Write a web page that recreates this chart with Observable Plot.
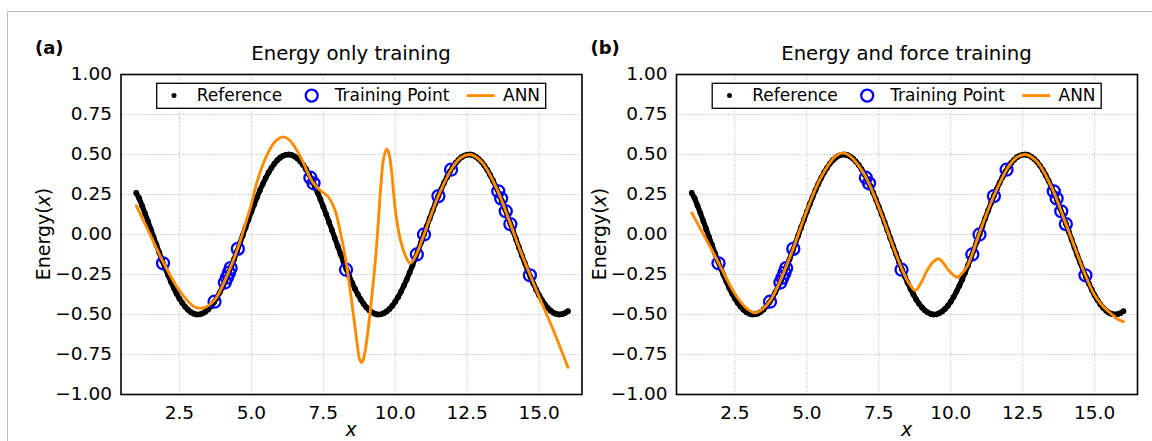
<!DOCTYPE html>
<html><head><meta charset="utf-8">
<script src="https://cdn.jsdelivr.net/npm/d3@7"></script>
<script src="https://cdn.jsdelivr.net/npm/@observablehq/plot@0.6"></script>
<style>
html,body{margin:0;padding:0;background:#fff;}
#fig{position:relative;width:1152px;height:441px;overflow:hidden;font-family:"DejaVu Sans",sans-serif;}
#border{position:absolute;left:7px;top:11px;width:1300px;height:600px;border-top:1.5px solid #c0c0c0;border-left:1.5px solid #c0c0c0;}
.panel{position:absolute;top:0;}
#overlay{position:absolute;left:0;top:0;}
</style></head><body><div id="fig"><div id="border"></div></div>
<script>
// ---- data ----
const xTicks = [2.5, 5.0, 7.5, 10.0, 12.5, 15.0];
const yTicks = [-1.0, -0.75, -0.5, -0.25, 0.0, 0.25, 0.5, 0.75, 1.0];
const xDomain = [0.47, 16.49];
const yDomain = [-1, 1];

// Reference (black dots), sampled from x = 1.0 to 16.0 every 0.1
const refStart = 1.0, refStep = 0.1;
const refY = [
  0.260,0.227,0.181,0.134,0.085,0.035,-0.015,-0.064,-0.114,-0.162,
  -0.208,-0.252,-0.294,-0.333,-0.369,-0.401,-0.428,-0.452,-0.471,-0.486,
  -0.495,-0.500,-0.499,-0.494,-0.483,-0.468,-0.448,-0.424,-0.396,-0.363,
  -0.327,-0.287,-0.245,-0.200,-0.154,-0.105,-0.056,-0.006,0.044,0.093,
  0.142,0.189,0.234,0.277,0.317,0.354,0.388,0.417,0.443,0.464,
  0.480,0.492,0.498,0.500,0.497,0.488,0.475,0.457,0.435,0.408,
  0.377,0.342,0.304,0.263,0.219,0.173,0.126,0.077,0.027,-0.023,
  -0.073,-0.122,-0.170,-0.216,-0.260,-0.301,-0.339,-0.374,-0.406,-0.433,
  -0.456,-0.474,-0.487,-0.496,-0.500,-0.499,-0.492,-0.481,-0.465,-0.445,
  -0.420,-0.390,-0.357,-0.320,-0.281,-0.238,-0.193,-0.146,-0.097,-0.048,
  0.002,0.052,0.102,0.150,0.197,0.242,0.284,0.324,0.360,0.393,
  0.422,0.447,0.467,0.483,0.493,0.499,0.500,0.496,0.486,0.472,
  0.454,0.431,0.403,0.371,0.336,0.297,0.256,0.212,0.166,0.118,
  0.068,0.019,-0.031,-0.081,-0.130,-0.177,-0.223,-0.266,-0.307,-0.345,
  -0.380,-0.410,-0.437,-0.459,-0.476,-0.489,-0.497,-0.500,-0.498,-0.491,
  -0.479
];

// Training points (blue circles)
const trainX = [1.93, 3.72, 4.08, 4.15, 4.22, 4.28, 4.53, 7.05, 7.16, 8.29, 10.75, 11.0, 11.5, 11.94, 13.58, 13.68, 13.84, 14.0, 14.68];
const trainY = [-0.18, -0.42, -0.30, -0.27, -0.24, -0.21, -0.09, 0.355, 0.32, -0.22, -0.125, 0.0, 0.24, 0.405, 0.27, 0.225, 0.145, 0.065, -0.255];

// ANN, panel (a): energy only training
const annAX = [1.0, 1.4, 1.93, 2.5, 3.0, 3.3, 3.72, 4.1, 4.53, 4.8, 5.0, 5.2, 5.5, 5.8, 6.09, 6.3, 6.5, 6.75, 7.0, 7.16, 7.4, 7.65, 7.82, 7.93, 8.11, 8.3, 8.51, 8.69, 8.76, 8.83, 8.9, 8.98, 9.15, 9.33, 9.5, 9.6, 9.71, 9.8, 9.87, 10.02, 10.19, 10.37, 10.52, 10.72, 11.0, 11.5, 12.0, 12.3, 12.6, 13.0, 13.5, 14.0, 14.3, 14.68, 15.0, 15.5, 16.0];
const annAY = [0.18, 0.03, -0.17, -0.35, -0.45, -0.46, -0.41, -0.28, -0.085, 0.07, 0.19, 0.33, 0.48, 0.575, 0.61, 0.595, 0.55, 0.47, 0.37, 0.32, 0.275, 0.24, 0.19, 0.14, 0.0, -0.18, -0.45, -0.70, -0.78, -0.80, -0.775, -0.70, -0.45, -0.12, 0.30, 0.48, 0.535, 0.49, 0.40, 0.13, -0.04, -0.14, -0.18, -0.13, 0.0, 0.242, 0.422, 0.483, 0.50, 0.454, 0.297, 0.068, -0.08, -0.25, -0.39, -0.60, -0.83];

// ANN, panel (b): energy and force training
const annBX = [1.0, 1.5, 1.94, 2.5, 2.9, 3.2, 3.5, 3.74, 4.0, 4.5, 5.0, 5.5, 6.0, 6.25, 6.5, 7.0, 7.5, 8.0, 8.29, 8.5, 8.77, 9.0, 9.18, 9.4, 9.58, 9.75, 9.93, 10.22, 10.4, 10.57, 10.74, 10.98, 11.5, 12.0, 12.3, 12.6, 13.0, 13.5, 14.0, 14.68, 15.0, 15.3, 15.6, 15.8, 16.0];
const annBY = [0.135, -0.03, -0.18, -0.37, -0.46, -0.49, -0.46, -0.41, -0.32, -0.10, 0.15, 0.36, 0.49, 0.51, 0.49, 0.375, 0.17, -0.075, -0.21, -0.29, -0.35, -0.29, -0.225, -0.17, -0.152, -0.18, -0.225, -0.267, -0.24, -0.20, -0.125, 0.0, 0.242, 0.422, 0.483, 0.50, 0.454, 0.297, 0.068, -0.255, -0.38, -0.45, -0.50, -0.53, -0.545];

const titles = ["Energy only training", "Energy and force training"];
const panelTags = ["(a)", "(b)"];
const legendLabels = ["Reference", "Training Point", "ANN"];

// ---- build tables ----
const refData = refY.map((y, i) => ({x: refStart + i * refStep, y}));
const trainData = trainX.map((x, i) => ({x, y: trainY[i]}));
const annA = annAX.map((x, i) => ({x, y: annAY[i]}));
const annB = annBX.map((x, i) => ({x, y: annBY[i]}));

const FONT = '"DejaVu Sans", sans-serif';
const ORANGE = "#ff8c00", BLUE = "#0000ff";
const fig = document.getElementById("fig");

function panel(ann, left, width, ml, mr) {
  const p = Plot.plot({
    width, height: 441,
    marginLeft: ml, marginRight: mr, marginTop: 74, marginBottom: 47,
    style: {fontFamily: FONT, fontSize: "18.5px", color: "black", background: "transparent", overflow: "visible"},
    x: {domain: xDomain},
    y: {domain: yDomain},
    marks: [
      Plot.gridX(xTicks, {stroke: "#b0b0b0", strokeOpacity: 1, strokeDasharray: "1,1.6", strokeWidth: 0.9}),
      Plot.gridY(yTicks, {stroke: "#b0b0b0", strokeOpacity: 1, strokeDasharray: "1,1.6", strokeWidth: 0.9}),
      Plot.line(refData, {x: "x", y: "y", stroke: "black", strokeWidth: 5.2}),
      Plot.dot(refData, {x: "x", y: "y", r: 2.9, fill: "black"}),
      Plot.dot(trainData, {x: "x", y: "y", r: 6, stroke: BLUE, strokeWidth: 2.3, fill: "none"}),
      Plot.line(ann, {x: "x", y: "y", stroke: ORANGE, strokeWidth: 2.9, curve: "catmull-rom"}),
      Plot.frame({stroke: "black", strokeWidth: 1.6}),
      Plot.axisX(xTicks, {tickSize: 0, tickPadding: 11, tickFormat: d3.format(".1f"), label: null, fontSize: 18.5}),
      Plot.axisY(yTicks, {tickSize: 0, tickPadding: 9, tickFormat: d3.format(".2f"), label: null, fontSize: 18.5})
    ]
  });
  p.classList.add("panel");
  p.style.left = left + "px";
  fig.appendChild(p);
}

// frame a: 120.5..581.5 ; frame b: 676..1137
panel(annA, 0, 596, 120.5, 14.5);
panel(annB, 596, 556, 80, 15);

// ---- overlay: titles, axis labels, legends ----
const svg = d3.select(fig).append("svg").attr("id", "overlay")
  .attr("width", 1152).attr("height", 441)
  .style("font-family", FONT);

const frames = [{l: 120.5, r: 581.5}, {l: 676, r: 1137}];
frames.forEach((f, k) => {
  const cx = (f.l + f.r) / 2;
  svg.append("text").attr("x", cx).attr("y", 59.5).attr("text-anchor", "middle")
    .attr("font-size", 19.7).text(titles[k]);
  svg.append("text").attr("x", f.l - 85.5).attr("y", 53.5).attr("font-size", 18)
    .attr("font-weight", "bold").text(panelTags[k]);
  // y label
  const yl = svg.append("text").attr("transform", `translate(${f.l - 70.5},234) rotate(-90)`)
    .attr("text-anchor", "middle").attr("font-size", 19);
  yl.append("tspan").text("Energy(");
  yl.append("tspan").attr("font-style", "italic").text("x");
  yl.append("tspan").text(")");
  // x label
  svg.append("text").attr("x", cx).attr("y", 436).attr("text-anchor", "middle")
    .attr("font-size", 19).attr("font-style", "italic").text("x");
  // legend
  const L = f.l + 36.2, T = 83.3, cy = 95.6;
  svg.append("rect").attr("x", L).attr("y", T).attr("width", 389).attr("height", 25)
    .attr("fill", "white").attr("stroke", "black").attr("stroke-width", 1.3);
  svg.append("circle").attr("cx", L + 17.3).attr("cy", cy).attr("r", 2.5).attr("fill", "black");
  svg.append("text").attr("x", L + 40).attr("y", 101.3).attr("font-size", 17).text(legendLabels[0]);
  svg.append("circle").attr("cx", L + 155).attr("cy", cy).attr("r", 6)
    .attr("fill", "none").attr("stroke", BLUE).attr("stroke-width", 2.3);
  svg.append("text").attr("x", L + 178).attr("y", 101.3).attr("font-size", 17).text(legendLabels[1]);
  svg.append("line").attr("x1", L + 310).attr("x2", L + 338).attr("y1", cy).attr("y2", cy)
    .attr("stroke", ORANGE).attr("stroke-width", 2.9);
  svg.append("text").attr("x", L + 346.3).attr("y", 101.3).attr("font-size", 17).text(legendLabels[2]);
});
</script></body></html>
